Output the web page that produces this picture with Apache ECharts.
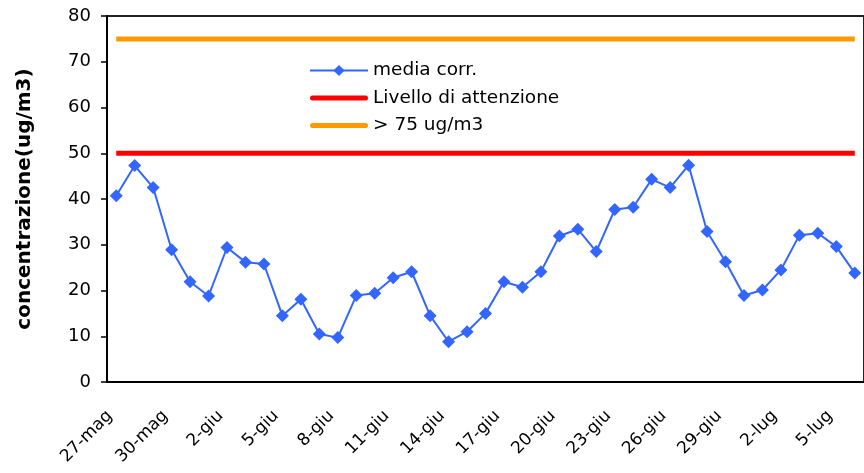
<!DOCTYPE html>
<html>
<head>
<meta charset="utf-8">
<script src="https://cdn.jsdelivr.net/npm/echarts@6/dist/echarts.min.js"></script>
<style>
html,body{margin:0;padding:0;background:#fff;}
#c{width:864px;height:473px;}
</style>
</head>
<body>
<div id="c"></div>
<script>
const categories = ['27-mag','28-mag','29-mag','30-mag','31-mag',
  '1-giu','2-giu','3-giu','4-giu','5-giu','6-giu','7-giu','8-giu','9-giu','10-giu',
  '11-giu','12-giu','13-giu','14-giu','15-giu','16-giu','17-giu','18-giu','19-giu','20-giu',
  '21-giu','22-giu','23-giu','24-giu','25-giu','26-giu','27-giu','28-giu','29-giu','30-giu',
  '1-lug','2-lug','3-lug','4-lug','5-lug','6-lug'];
const mediaCorr = [40.7,47.3,42.5,28.9,21.9,18.8,29.4,26.2,25.8,14.5,
  18.1,10.5,9.7,18.9,19.4,22.8,24.1,14.5,8.8,11.0,
  15.0,21.9,20.7,24.1,31.9,33.4,28.5,37.7,38.2,44.3,
  42.5,47.4,32.9,26.3,18.9,20.1,24.5,32.1,32.5,29.6,23.8];
const livelloAttenzione = [['27-mag',50],['6-lug',50]];
const soglia75 = [['27-mag',75],['6-lug',75]];
const yTicks = {min:0, max:80, interval:10};

const chart = echarts.init(document.getElementById('c'));
const FONT = 'DejaVu Sans';
const barIcon = 'path://M2.5,0 L55.5,0 A2.5,2.5 0 0 1 55.5,5 L2.5,5 A2.5,2.5 0 0 1 2.5,0 Z';
chart.setOption({
  animation:false,
  backgroundColor:'#fff',
  textStyle:{fontFamily:FONT},
  grid:{left:107, top:16, bottom:91, right:-9, show:true, borderColor:'#222', borderWidth:2, containLabel:false},
  legend:{
    left:309, top:61, orient:'vertical', itemWidth:58, itemHeight:14, itemGap:8.5, padding:0,
    textStyle:{fontFamily:FONT, fontSize:18.5, color:'#000'},
    data:[
      {name:'media corr.'},
      {name:'Livello di attenzione', icon:barIcon, itemStyle:{color:'#FF0000'}},
      {name:'> 75 ug/m3', icon:barIcon, itemStyle:{color:'#FF9900'}}
    ]
  },
  xAxis:{
    type:'category', data:categories, boundaryGap:true,
    axisLine:{lineStyle:{color:'#000', width:2}},
    axisTick:{interval:2, length:6, lineStyle:{color:'#555', width:2}},
    axisLabel:{interval:2, rotate:45, fontSize:17, color:'#000', margin:25, padding:[0,9,0,0], fontFamily:FONT},
    splitLine:{show:false}
  },
  yAxis:{
    type:'value', min:yTicks.min, max:yTicks.max, interval:yTicks.interval,
    name:'concentrazione(ug/m3)', nameLocation:'middle', nameGap:72,
    nameTextStyle:{fontFamily:FONT, fontSize:20, fontWeight:'bold', color:'#000'},
    axisLine:{show:true, lineStyle:{color:'#000', width:2}},
    axisTick:{show:true, length:6, lineStyle:{color:'#000', width:1.5}},
    axisLabel:{fontSize:18, color:'#000', margin:16, fontFamily:FONT},
    splitLine:{show:false}
  },
  series:[
    {name:'media corr.', type:'line', data:mediaCorr, symbol:'diamond', symbolSize:13, showAllSymbol:true,
     lineStyle:{color:'#3366FF', width:2}, itemStyle:{color:'#3366FF'}, z:5},
    {name:'Livello di attenzione', type:'line', data:livelloAttenzione, symbol:'none', showSymbol:false,
     lineStyle:{color:'#FF0000', width:5}, itemStyle:{color:'#FF0000'}},
    {name:'> 75 ug/m3', type:'line', data:soglia75, symbol:'none', showSymbol:false,
     lineStyle:{color:'#FF9900', width:5}, itemStyle:{color:'#FF9900'}}
  ]
});
</script>
</body>
</html>
